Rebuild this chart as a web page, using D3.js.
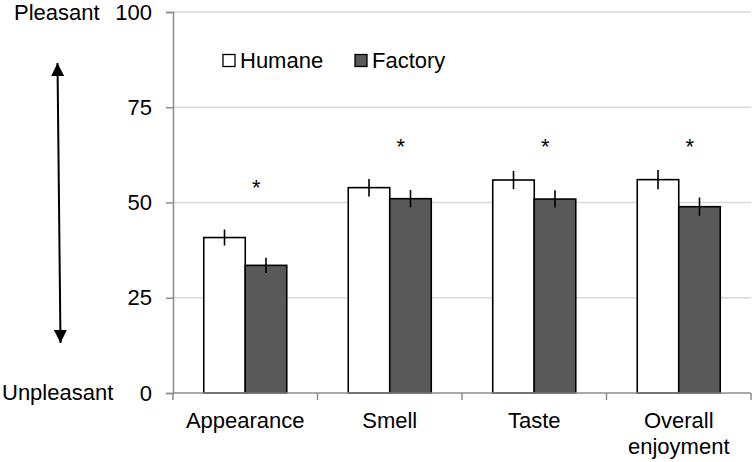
<!DOCTYPE html>
<html>
<head>
<meta charset="utf-8">
<script src="https://cdn.jsdelivr.net/npm/d3@7/dist/d3.min.js"></script>
<style>
  html, body { margin: 0; padding: 0; background: #fff; }
  svg { display: block; font-family: "Liberation Sans", Arial, sans-serif; }
</style>
</head>
<body>
<svg id="chart" width="755" height="462"></svg>
<script>
// ---- data ----
const categories = ["Appearance", "Smell", "Taste", "Overall enjoyment"];
const categoryLabels = [["Appearance"], ["Smell"], ["Taste"], ["Overall", "enjoyment"]];
const series = ["Humane", "Factory"];
const humaneValues = [40.8, 53.9, 55.9, 56.0];
const factoryValues = [33.5, 51.0, 50.9, 48.9];
const humaneErrors = [2.1, 2.3, 2.4, 2.5];
const factoryErrors = [2.0, 2.3, 2.3, 2.4];
const significanceLevels = [55, 66, 66, 66];
const yTicks = [0, 25, 50, 75, 100];

(function () {
// ---- layout ----
const svg = d3.select("#chart");
const plotLeft = 173, plotRight = 751, plotTop = 12, plotBottom = 393;
const fontSize = 22;

const x = d3.scaleBand().domain(categories).range([plotLeft, plotRight]).padding(0);
const x1 = d3.scaleBand().domain(series)
  .range([x.bandwidth() * 0.2128, x.bandwidth() * 0.7872]).padding(0);
const y = d3.scaleLinear().domain([0, 100]).range([plotBottom, plotTop]);

// gridlines
svg.append("g").selectAll("line")
  .data(yTicks.filter(d => d > 0))
  .join("line")
  .attr("x1", plotLeft).attr("x2", plotRight)
  .attr("y1", d => y(d)).attr("y2", d => y(d))
  .attr("stroke", "#d9d9d9").attr("stroke-width", 1.5);

// y axis
const yAxis = svg.append("g")
  .attr("transform", `translate(${plotLeft},0)`)
  .call(d3.axisLeft(y).tickValues(yTicks).tickSize(7).tickPadding(14).tickFormat(d3.format("d")));
yAxis.select(".domain").attr("stroke", "#8c8c8c").attr("stroke-width", 1.5);
yAxis.selectAll(".tick line").attr("stroke", "#8c8c8c").attr("stroke-width", 1.5);
yAxis.selectAll(".tick text")
  .attr("font-size", fontSize).attr("fill", "#000")
  .attr("font-family", "'Liberation Sans', Arial, sans-serif");

// bars
const data = categories.map((c, i) => ({
  cat: c,
  vals: [
    { s: "Humane", v: humaneValues[i], e: humaneErrors[i] },
    { s: "Factory", v: factoryValues[i], e: factoryErrors[i] }
  ]
}));
const fills = { Humane: "#ffffff", Factory: "#595959" };

const groups = svg.append("g").selectAll("g")
  .data(data).join("g")
  .attr("transform", d => `translate(${x(d.cat)},0)`);

groups.selectAll("rect")
  .data(d => d.vals).join("rect")
  .attr("x", d => x1(d.s))
  .attr("width", x1.bandwidth())
  .attr("y", d => y(d.v))
  .attr("height", d => y(0) - y(d.v))
  .attr("fill", d => fills[d.s])
  .attr("stroke", "#000").attr("stroke-width", 1.6);

groups.selectAll("line.err")
  .data(d => d.vals).join("line")
  .attr("class", "err")
  .attr("x1", d => x1(d.s) + x1.bandwidth() / 2)
  .attr("x2", d => x1(d.s) + x1.bandwidth() / 2)
  .attr("y1", d => y(d.v + d.e))
  .attr("y2", d => y(d.v - d.e))
  .attr("stroke", "#000").attr("stroke-width", 1.6);

// x axis baseline and boundary ticks
const bounds = categories.map(c => x(c)).concat([x(categories[categories.length - 1]) + x.bandwidth()]);
svg.append("line")
  .attr("x1", plotLeft).attr("x2", plotRight)
  .attr("y1", y(0)).attr("y2", y(0))
  .attr("stroke", "#8c8c8c").attr("stroke-width", 1.5);
svg.append("g").selectAll("line")
  .data(bounds).join("line")
  .attr("x1", d => d).attr("x2", d => d)
  .attr("y1", y(0)).attr("y2", y(0) + 7)
  .attr("stroke", "#8c8c8c").attr("stroke-width", 1.5);

// category labels
const labelG = svg.append("g").selectAll("text")
  .data(categories).join("text")
  .attr("text-anchor", "middle")
  .attr("font-size", fontSize)
  .attr("fill", "#000");
labelG.each(function(c, i) {
  const t = d3.select(this);
  categoryLabels[i].forEach((line, j) => {
    t.append("tspan")
      .attr("x", x(c) + x.bandwidth() / 2)
      .attr("y", 428 + j * 26)
      .text(line);
  });
});

// significance asterisks
svg.append("g").selectAll("text")
  .data(categories).join("text")
  .attr("x", c => x(c) + x.bandwidth() / 2 + 11)
  .attr("y", (c, i) => y(significanceLevels[i]) + 12)
  .attr("text-anchor", "middle")
  .attr("font-size", fontSize)
  .attr("fill", "#000")
  .text("*");

// legend
const legend = svg.append("g");
const legendX = [223, 355];
series.forEach((s, i) => {
  legend.append("rect")
    .attr("x", legendX[i]).attr("y", 54.5)
    .attr("width", 12).attr("height", 12)
    .attr("fill", fills[s]).attr("stroke", "#000").attr("stroke-width", 1.3);
  legend.append("text")
    .attr("x", legendX[i] + 17).attr("y", 68)
    .attr("font-size", fontSize).attr("fill", "#000")
    .text(s);
});

// side annotation
svg.append("text").attr("x", 14).attr("y", 20)
  .attr("font-size", fontSize).attr("fill", "#000").text("Pleasant");
svg.append("text").attr("x", 2).attr("y", 400)
  .attr("font-size", fontSize).attr("fill", "#000").text("Unpleasant");

const defs = svg.append("defs");
defs.append("marker")
  .attr("id", "arrowhead")
  .attr("viewBox", "0 0 10 10")
  .attr("refX", 10).attr("refY", 5)
  .attr("markerWidth", 6.5).attr("markerHeight", 6.5)
  .attr("orient", "auto-start-reverse")
  .attr("markerUnits", "strokeWidth")
  .append("path").attr("d", "M0,0 L10,5 L0,10 Z").attr("fill", "#000");

svg.append("line")
  .attr("x1", 57.5).attr("y1", 63)
  .attr("x2", 60.5).attr("y2", 343)
  .attr("stroke", "#000").attr("stroke-width", 2)
  .attr("marker-start", "url(#arrowhead)")
  .attr("marker-end", "url(#arrowhead)");
})();
</script>
</body>
</html>
